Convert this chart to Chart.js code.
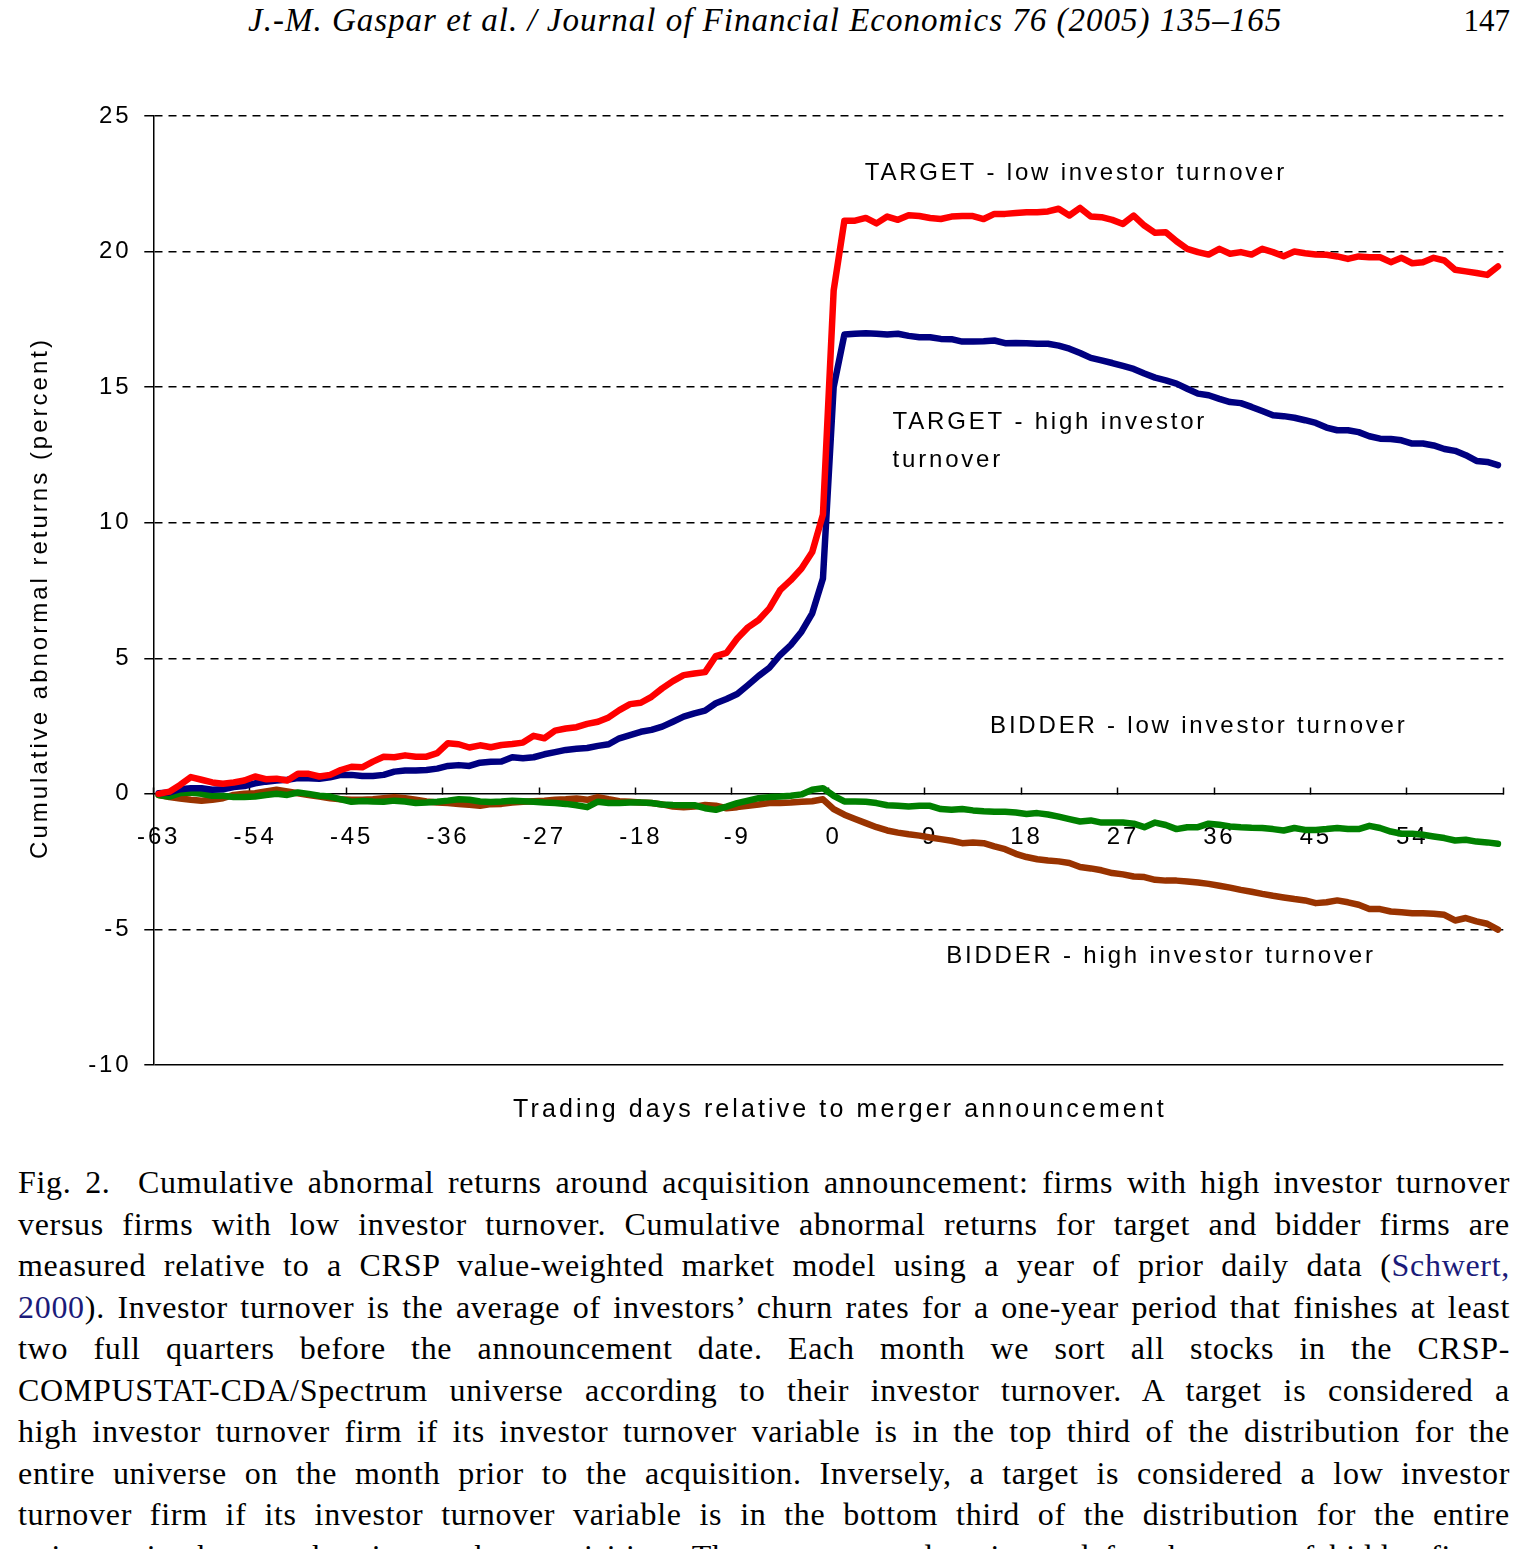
<!DOCTYPE html>
<html>
<head>
<meta charset="utf-8">
<script src="https://cdn.jsdelivr.net/npm/chart.js@4.4.1/dist/chart.umd.min.js"></script>
<style>
  html, body { margin: 0; padding: 0; background: #fff; }
  body { width: 1528px; height: 1549px; overflow: hidden; position: relative; }
  #chartBox { position: absolute; left: 0; top: 0; width: 1528px; height: 1150px; }
  .head { position: absolute; top: 4px; font: italic 33px/33px "Liberation Serif", "Times New Roman", serif; letter-spacing: 1px; color: #000; white-space: nowrap; }
  .page { position: absolute; top: 5px; right: 18px; font: 31px/31px "Liberation Serif", "Times New Roman", serif; }
  #caption { position: absolute; left: 18px; top: 1162px; width: 1492px; font: 32px/41.5px "Liberation Serif", "Times New Roman", serif; letter-spacing: 0.7px; color: #000; }
  #caption div { text-align: justify; text-align-last: justify; }
  #caption .ref { color: #1b1b7a; }
</style>
</head>
<body>
<div class="head" style="left:248px">J.-M. Gaspar et al. / Journal of Financial Economics 76 (2005) 135–165</div>
<div class="page">147</div>
<div id="chartBox"><canvas id="chart" width="1528" height="1150"></canvas></div>
<div id="caption">
  <div>Fig. 2.&nbsp; Cumulative abnormal returns around acquisition announcement: firms with high investor turnover</div>
  <div>versus firms with low investor turnover. Cumulative abnormal returns for target and bidder firms are</div>
  <div>measured relative to a CRSP value-weighted market model using a year of prior daily data (<span class="ref">Schwert,</span></div>
  <div><span class="ref">2000</span>). Investor turnover is the average of investors’ churn rates for a one-year period that finishes at least</div>
  <div>two full quarters before the announcement date. Each month we sort all stocks in the CRSP-</div>
  <div>COMPUSTAT-CDA/Spectrum universe according to their investor turnover. A target is considered a</div>
  <div>high investor turnover firm if its investor turnover variable is in the top third of the distribution for the</div>
  <div>entire universe on the month prior to the acquisition. Inversely, a target is considered a low investor</div>
  <div>turnover firm if its investor turnover variable is in the bottom third of the distribution for the entire</div>
  <div>universe in the month prior to the acquisition. The same procedure is used for the case of bidder firms.</div>
</div>
<script>
// trading days relative to the announcement
const days = [
  -63, -62, -61, -60, -59, -58, -57, -56, -55,
  -54, -53, -52, -51, -50, -49, -48, -47, -46,
  -45, -44, -43, -42, -41, -40, -39, -38, -37,
  -36, -35, -34, -33, -32, -31, -30, -29, -28,
  -27, -26, -25, -24, -23, -22, -21, -20, -19,
  -18, -17, -16, -15, -14, -13, -12, -11, -10,
  -9, -8, -7, -6, -5, -4, -3, -2, -1,
  0, 1, 2, 3, 4, 5, 6, 7, 8,
  9, 10, 11, 12, 13, 14, 15, 16, 17,
  18, 19, 20, 21, 22, 23, 24, 25, 26,
  27, 28, 29, 30, 31, 32, 33, 34, 35,
  36, 37, 38, 39, 40, 41, 42, 43, 44,
  45, 46, 47, 48, 49, 50, 51, 52, 53,
  54, 55, 56, 57, 58, 59, 60, 61, 62
];

const xTickLabels = [-63, -54, -45, -36, -27, -18, -9, 0, 9, 18, 27, 36, 45, 54];

const targetLow = [
  0.00, 0.08, 0.33, 0.62, 0.52, 0.42, 0.37, 0.42, 0.49,
  0.64, 0.54, 0.56, 0.49, 0.74, 0.74, 0.64, 0.70, 0.88,
  1.00, 0.98, 1.19, 1.37, 1.35, 1.42, 1.37, 1.37, 1.50,
  1.87, 1.83, 1.71, 1.79, 1.72, 1.80, 1.84, 1.89, 2.14,
  2.05, 2.33, 2.41, 2.46, 2.58, 2.66, 2.82, 3.09, 3.31,
  3.36, 3.58, 3.89, 4.16, 4.38, 4.44, 4.49, 5.08, 5.20,
  5.73, 6.14, 6.41, 6.84, 7.51, 7.88, 8.31, 8.92, 10.30,
  18.56, 21.14, 21.14, 21.24, 21.04, 21.29, 21.17, 21.34, 21.31,
  21.24, 21.20, 21.29, 21.31, 21.31, 21.20, 21.39, 21.39, 21.42,
  21.45, 21.45, 21.48, 21.58, 21.33, 21.61, 21.29, 21.27, 21.17,
  21.02, 21.33, 20.96, 20.69, 20.71, 20.38, 20.10, 19.98, 19.89,
  20.10, 19.92, 19.98, 19.89, 20.10, 19.98, 19.83, 20.00, 19.94,
  19.89, 19.88, 19.82, 19.73, 19.82, 19.79, 19.79, 19.61, 19.77,
  19.57, 19.61, 19.77, 19.67, 19.33, 19.27, 19.21, 19.14, 19.45
];

const targetHigh = [
  0.02, 0.05, 0.17, 0.21, 0.21, 0.15, 0.17, 0.25, 0.29,
  0.39, 0.45, 0.49, 0.52, 0.58, 0.58, 0.56, 0.61, 0.70,
  0.70, 0.66, 0.66, 0.70, 0.82, 0.86, 0.86, 0.88, 0.93,
  1.03, 1.06, 1.03, 1.15, 1.18, 1.19, 1.35, 1.31, 1.35,
  1.46, 1.54, 1.62, 1.66, 1.69, 1.77, 1.83, 2.05, 2.17,
  2.29, 2.36, 2.48, 2.66, 2.85, 2.97, 3.07, 3.34, 3.50,
  3.68, 4.01, 4.35, 4.65, 5.12, 5.49, 5.98, 6.66, 7.94,
  15.00, 16.94, 16.97, 16.99, 16.97, 16.94, 16.97, 16.89, 16.84,
  16.84, 16.78, 16.77, 16.68, 16.68, 16.69, 16.72, 16.62, 16.63,
  16.62, 16.60, 16.60, 16.53, 16.42, 16.26, 16.08, 15.99, 15.89,
  15.78, 15.67, 15.50, 15.35, 15.25, 15.13, 14.94, 14.76, 14.70,
  14.57, 14.45, 14.41, 14.27, 14.12, 13.96, 13.93, 13.87, 13.78,
  13.68, 13.51, 13.41, 13.41, 13.34, 13.19, 13.10, 13.09, 13.04,
  12.92, 12.92, 12.85, 12.72, 12.65, 12.49, 12.28, 12.24, 12.12
];

const bidderLow = [
  -0.04, -0.10, 0.03, 0.05, 0.00, -0.07, -0.07, -0.12, -0.12,
  -0.10, -0.04, 0.00, -0.04, 0.05, 0.00, -0.07, -0.10, -0.20,
  -0.29, -0.26, -0.28, -0.29, -0.25, -0.28, -0.34, -0.32, -0.29,
  -0.25, -0.20, -0.22, -0.28, -0.30, -0.28, -0.25, -0.27, -0.29,
  -0.32, -0.34, -0.37, -0.42, -0.49, -0.29, -0.34, -0.34, -0.32,
  -0.32, -0.34, -0.39, -0.41, -0.42, -0.42, -0.53, -0.59, -0.47,
  -0.34, -0.25, -0.16, -0.12, -0.10, -0.07, -0.02, 0.15, 0.21,
  -0.07, -0.28, -0.28, -0.29, -0.34, -0.42, -0.44, -0.47, -0.44,
  -0.44, -0.56, -0.59, -0.56, -0.61, -0.64, -0.66, -0.66, -0.69,
  -0.74, -0.71, -0.76, -0.84, -0.93, -1.02, -0.98, -1.06, -1.06,
  -1.06, -1.10, -1.23, -1.06, -1.15, -1.30, -1.23, -1.23, -1.10,
  -1.14, -1.20, -1.23, -1.25, -1.26, -1.30, -1.35, -1.26, -1.33,
  -1.33, -1.30, -1.26, -1.30, -1.30, -1.18, -1.26, -1.39, -1.47,
  -1.47, -1.51, -1.57, -1.63, -1.72, -1.69, -1.76, -1.79, -1.84
];

const bidderHigh = [
  -0.04, -0.12, -0.17, -0.22, -0.25, -0.22, -0.16, -0.04, 0.00,
  0.02, 0.09, 0.15, 0.09, 0.02, -0.04, -0.10, -0.16, -0.20,
  -0.22, -0.22, -0.20, -0.16, -0.12, -0.16, -0.22, -0.28, -0.32,
  -0.34, -0.37, -0.40, -0.44, -0.38, -0.37, -0.32, -0.29, -0.27,
  -0.25, -0.22, -0.20, -0.17, -0.22, -0.12, -0.20, -0.27, -0.29,
  -0.32, -0.34, -0.39, -0.47, -0.49, -0.47, -0.41, -0.44, -0.53,
  -0.49, -0.44, -0.39, -0.34, -0.34, -0.32, -0.29, -0.27, -0.20,
  -0.56, -0.77, -0.93, -1.08, -1.23, -1.35, -1.43, -1.49, -1.54,
  -1.61, -1.67, -1.73, -1.82, -1.79, -1.82, -1.94, -2.04, -2.21,
  -2.33, -2.41, -2.46, -2.49, -2.55, -2.70, -2.75, -2.82, -2.92,
  -2.97, -3.05, -3.07, -3.17, -3.20, -3.20, -3.23, -3.27, -3.32,
  -3.39, -3.46, -3.54, -3.61, -3.69, -3.76, -3.82, -3.88, -3.93,
  -4.03, -4.00, -3.93, -4.00, -4.09, -4.25, -4.25, -4.34, -4.37,
  -4.40, -4.40, -4.42, -4.46, -4.67, -4.58, -4.70, -4.79, -5.01
];

const chartFont = '"Liberation Sans", Arial, Helvetica, sans-serif';
const letterGap = '2.8px';

// labels written inside the plot, anchored at (day, percent)
const notes = [
  { lines: ['TARGET - low investor turnover'], day: 2.9, value: 22.87 },
  { lines: ['TARGET - high investor', 'turnover'], day: 5.5, value: 13.70 },
  { lines: ['BIDDER - low investor turnover'], day: 14.6, value: 2.50 },
  { lines: ['BIDDER - high investor turnover'], day: 10.5, value: -6.0 }
];

const textPlugin = {
  id: 'chartText',
  beforeDraw(chart) {
    chart.ctx.letterSpacing = letterGap;
  },
  afterDraw(chart) {
    const { ctx, scales } = chart;
    const x = scales.x;
    const y = scales.y;
    ctx.save();
    ctx.letterSpacing = letterGap;
    ctx.fillStyle = '#000';
    ctx.font = `24px ${chartFont}`;
    ctx.textBaseline = 'middle';
    ctx.textAlign = 'left';
    notes.forEach((note) => {
      const px = x.getPixelForValue(note.day - days[0]);
      const py = y.getPixelForValue(note.value);
      note.lines.forEach((line, i) => ctx.fillText(line, px, py + i * 38));
    });

    ctx.textAlign = 'center';
    ctx.font = `25px ${chartFont}`;
    ctx.letterSpacing = '3.1px';
    ctx.fillText('Trading days relative to merger announcement', 840, 1110);

    ctx.font = `24px ${chartFont}`;
    ctx.letterSpacing = '3px';
    ctx.translate(40, 598);
    ctx.rotate(-Math.PI / 2);
    ctx.fillText('Cumulative abnormal returns (percent)', 0, 0);
    ctx.restore();
  }
};

const makeLine = (label, data, color) => ({
  label,
  data,
  borderColor: color,
  backgroundColor: color,
  borderWidth: 6.5,
  pointRadius: 0,
  tension: 0,
  borderJoinStyle: 'round',
  borderCapStyle: 'round',
  fill: false
});

new Chart(document.getElementById('chart'), {
  type: 'line',
  data: {
    labels: days,
    datasets: [
      makeLine('TARGET - low investor turnover', targetLow, '#ff0000'),
      makeLine('TARGET - high investor turnover', targetHigh, '#000080'),
      makeLine('BIDDER - low investor turnover', bidderLow, '#008000'),
      makeLine('BIDDER - high investor turnover', bidderHigh, '#993300')
    ]
  },
  options: {
    responsive: false,
    animation: false,
    layout: { padding: { left: 0, top: 116, right: 24.7, bottom: 85 } },
    plugins: {
      legend: { display: false },
      tooltip: { enabled: false }
    },
    scales: {
      x: {
        type: 'category',
        axis: 'x',
        position: { y: 0 },
        offset: true,
        z: 1,
        afterFit: (scale) => {
          scale.height = 0;
          scale.paddingLeft = 0;
          scale.paddingRight = 0;
        },
        grid: {
          offset: true,
          drawOnChartArea: false,
          drawTicks: true,
          tickLength: -7,
          tickWidth: 1.5,
          tickColor: (ctx) => (ctx.index === undefined || ctx.index % 9 === 0) ? '#000' : 'rgba(0,0,0,0)'
        },
        border: { display: true, color: '#000', width: 1.5 },
        ticks: {
          autoSkip: false,
          maxRotation: 0,
          minRotation: 0,
          padding: 36,
          color: '#000',
          font: { family: chartFont, size: 24 },
          callback: (value, index) => xTickLabels.includes(days[index]) ? String(days[index]) : ''
        }
      },
      y: {
        min: -10,
        max: 25,
        afterFit: (scale) => { scale.width = 153.3; },
        grid: {
          color: (ctx) => (ctx.tick && ctx.tick.value === 0) ? 'rgba(0,0,0,0)' : '#000',
          lineWidth: 1.5,
          tickColor: '#000',
          tickLength: 9,
          tickWidth: 1.5
        },
        border: {
          display: true,
          color: '#000',
          width: 1.5,
          dash: (ctx) => (ctx.tick && ctx.tick.value > -10) ? [8, 6] : []
        },
        ticks: {
          stepSize: 5,
          padding: 13,
          color: '#000',
          font: { family: chartFont, size: 24 }
        }
      }
    }
  },
  plugins: [textPlugin]
});
</script>
</body>
</html>
